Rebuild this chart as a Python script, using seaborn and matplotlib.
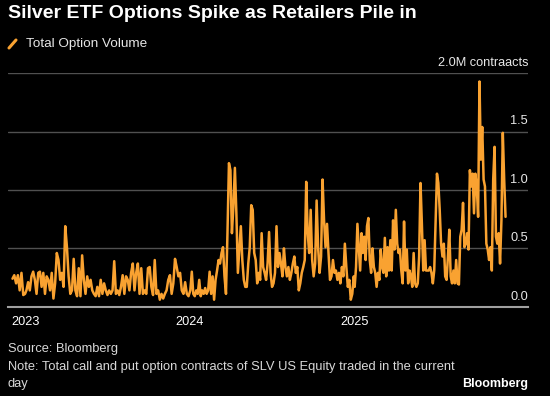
import pandas as pd
import numpy as np
import matplotlib.pyplot as plt
import matplotlib.transforms as mtransforms
from matplotlib.lines import Line2D
import seaborn as sns

# total SLV option volume, millions of contracts
vol_dec_2022 = [0.24, 0.27, 0.20, 0.27, 0.14, 0.29, 0.10, 0.11]

vol_2023 = [0.14, 0.21, 0.14, 0.26, 0.30, 0.23, 0.11, 0.29, 0.30, 0.17,
            0.29, 0.11, 0.26, 0.23, 0.14, 0.29, 0.07, 0.20, 0.46, 0.40,
            0.23, 0.29, 0.17, 0.69, 0.51, 0.26, 0.11, 0.14, 0.41, 0.14,
            0.09, 0.33, 0.09, 0.44, 0.23, 0.11, 0.26, 0.17, 0.23, 0.14,
            0.11, 0.09, 0.17, 0.09, 0.23, 0.11, 0.20, 0.14, 0.10, 0.14,
            0.11, 0.14, 0.39, 0.11, 0.14, 0.10, 0.17, 0.27, 0.11, 0.26,
            0.23, 0.14, 0.29, 0.37, 0.14, 0.29, 0.37, 0.11, 0.33, 0.11,
            0.14, 0.11, 0.33, 0.34, 0.17, 0.10, 0.40, 0.11, 0.14, 0.06,
            0.11, 0.07, 0.11, 0.14, 0.23, 0.27, 0.11, 0.20, 0.41, 0.34,
            0.26, 0.29, 0.14, 0.11, 0.21, 0.11, 0.09]

vol_2024 = [0.14, 0.30, 0.11, 0.09, 0.14, 0.11, 0.23, 0.09, 0.14, 0.11,
            0.16, 0.11, 0.14, 0.30, 0.11, 0.26, 0.06, 0.23, 0.31, 0.40,
            0.37, 0.46, 0.51, 0.26, 0.11, 0.63, 1.23, 1.17, 0.63, 0.86,
            1.19, 0.80, 0.29, 0.49, 0.69, 0.40, 0.23, 0.17, 0.17, 0.37,
            0.51, 0.87, 0.83, 0.46, 0.40, 0.20, 0.29, 0.23, 0.63, 0.34,
            0.29, 0.23, 0.37, 0.64, 0.29, 0.17, 0.20, 0.29, 0.69, 0.34,
            0.46, 0.37, 0.26, 0.50, 0.34, 0.26, 0.34, 0.23, 0.29, 0.37,
            0.43, 0.29, 0.34, 0.14, 0.20, 0.29, 0.34, 0.40, 1.07, 0.63,
            0.46, 0.83, 0.40, 0.26, 0.37, 0.91, 0.51, 0.29, 0.43, 1.09,
            0.74, 0.51, 0.71, 0.46, 0.23, 0.26, 0.40, 0.29, 0.31, 0.23,
            0.29, 0.20, 0.34, 0.26, 0.54, 0.34, 0.17, 0.23, 0.06, 0.11,
            0.26]

vol_2025 = [0.17, 0.34, 0.71, 0.51, 0.31, 0.63, 0.46, 0.60, 0.40, 0.69,
            0.76, 0.40, 0.29, 0.50, 0.34, 0.29, 0.17, 0.29, 0.23, 0.49,
            0.34, 0.29,
            0.59, 0.26, 0.51, 0.31, 0.57, 0.31, 0.74, 0.49, 0.83, 0.54,
            0.46, 0.49, 0.31, 0.20, 0.73, 0.31, 0.49, 0.20, 0.31, 0.26,
            0.17, 0.46, 0.20, 0.17, 0.20, 0.43, 1.06, 0.71, 0.31, 0.57,
            0.31, 0.31, 0.31, 0.34, 0.29, 0.20, 0.31, 0.74, 1.14, 1.06,
            0.83, 0.54, 0.43, 0.54, 0.26, 0.23, 0.43, 0.66, 0.26, 0.20,
            0.31, 0.20, 0.40, 0.20, 0.19, 0.60, 0.66, 0.89, 0.51, 0.54,
            0.63, 0.49, 1.17, 1.03, 1.14, 0.80, 1.14, 1.03, 0.77, 1.93,
            1.26, 1.54, 1.09, 1.03, 0.54, 0.49, 0.40, 0.51, 0.31, 1.09,
            1.37, 0.60, 0.54, 0.63, 0.37, 0.74, 1.49, 1.09, 0.77]

segments = [("2022-12-02", "2022-12-30", vol_dec_2022),
            ("2023-01-02", "2023-12-29", vol_2023),
            ("2024-01-02", "2024-12-31", vol_2024),
            ("2025-01-02", "2025-12-04", vol_2025)]

y_ticks = [0.0, 0.5, 1.0, 1.5, 2.0]
y_tick_labels = ["0.0", "0.5", "1.0", "1.5", "2.0M contraacts"]
year_ticks = pd.to_datetime(["2023-01-01", "2024-01-01", "2025-01-01"])

frames = []
for start, end, vals in segments:
    frames.append(pd.DataFrame({"date": pd.date_range(start, end, periods=len(vals)),
                                "volume": vals}))
df = pd.concat(frames, ignore_index=True)

sns.set_style("dark")
plt.rcParams['font.family'] = ['Liberation Sans', 'DejaVu Sans']

orange = '#f9a231'

fig = plt.figure(figsize=(5.5, 3.96), dpi=100, facecolor='black')
ax = fig.add_axes([8 / 550, 1 - 306.7 / 396, 520 / 550, 233.4 / 396])
ax.set_facecolor('black')

sns.lineplot(data=df, x='date', y='volume', color=orange, linewidth=1.8, ax=ax)

ax.set_xlim(pd.Timestamp("2022-11-22"), pd.Timestamp("2026-01-23"))
ax.set_ylim(0, 2.0)
ax.set_xlabel("")
ax.set_ylabel("")

# y axis: labels sit right-aligned just above each gridline
ax.yaxis.tick_right()
ax.set_yticks(y_ticks)
ax.set_yticklabels(y_tick_labels)
ax.tick_params(axis='y', length=0, pad=0, labelsize=9.2, labelcolor='#e8e8e8')
shift = mtransforms.ScaledTranslation(0, 3 / 72, fig.dpi_scale_trans)
for lbl in ax.get_yticklabels():
    lbl.set_ha('right')
    lbl.set_va('bottom')
    lbl.set_transform(lbl.get_transform() + shift)
ax.grid(axis='y', color='#505050', linewidth=1)
ax.grid(axis='x', visible=False)

# x axis: years + monthly minor ticks
months = pd.date_range("2023-02-01", "2025-12-01", freq="MS")
months = [m for m in months if m.month != 1]
ax.set_xticks(year_ticks)
ax.set_xticklabels([str(d.year) for d in year_ticks])
ax.set_xticks(months, minor=True)
ax.tick_params(axis='x', which='major', length=5, width=1.2, color='#bbbbbb',
               labelcolor='white', labelsize=9.2, pad=2)
ax.tick_params(axis='x', which='minor', length=3, width=1, color='#bbbbbb')

for s in ['left', 'right', 'top']:
    ax.spines[s].set_visible(False)
ax.spines['bottom'].set_color('#a0a0a0')
ax.spines['bottom'].set_linewidth(1.5)

fig.text(8 / 550, 1 - 13.5 / 396, "Silver ETF Options Spike as Retailers Pile in",
         fontsize=14, fontweight='bold', color='white', va='center', ha='left')
fig.add_artist(Line2D([9 / 550, 16 / 550], [1 - 48 / 396, 1 - 40 / 396],
                      color=orange, linewidth=2.2, transform=fig.transFigure))
fig.text(26 / 550, 1 - 44 / 396, "Total Option Volume", fontsize=9.7,
         color='#e6e6e6', va='center', ha='left')

fig.text(8 / 550, 1 - 349 / 396, "Source: Bloomberg", fontsize=9.3,
         color='#d8d8d8', va='center', ha='left')
fig.text(8 / 550, 1 - 367 / 396,
         "Note: Total call and put option contracts of SLV US Equity traded in the current",
         fontsize=9.3, color='#d8d8d8', va='center', ha='left')
fig.text(8 / 550, 1 - 384 / 396, "day", fontsize=9.3,
         color='#d8d8d8', va='center', ha='left')
fig.text(528 / 550, 1 - 384 / 396, "Bloomberg", fontsize=9, fontweight='bold',
         color='white', va='center', ha='right')

fig.savefig("out.png", dpi=100, facecolor='black')
